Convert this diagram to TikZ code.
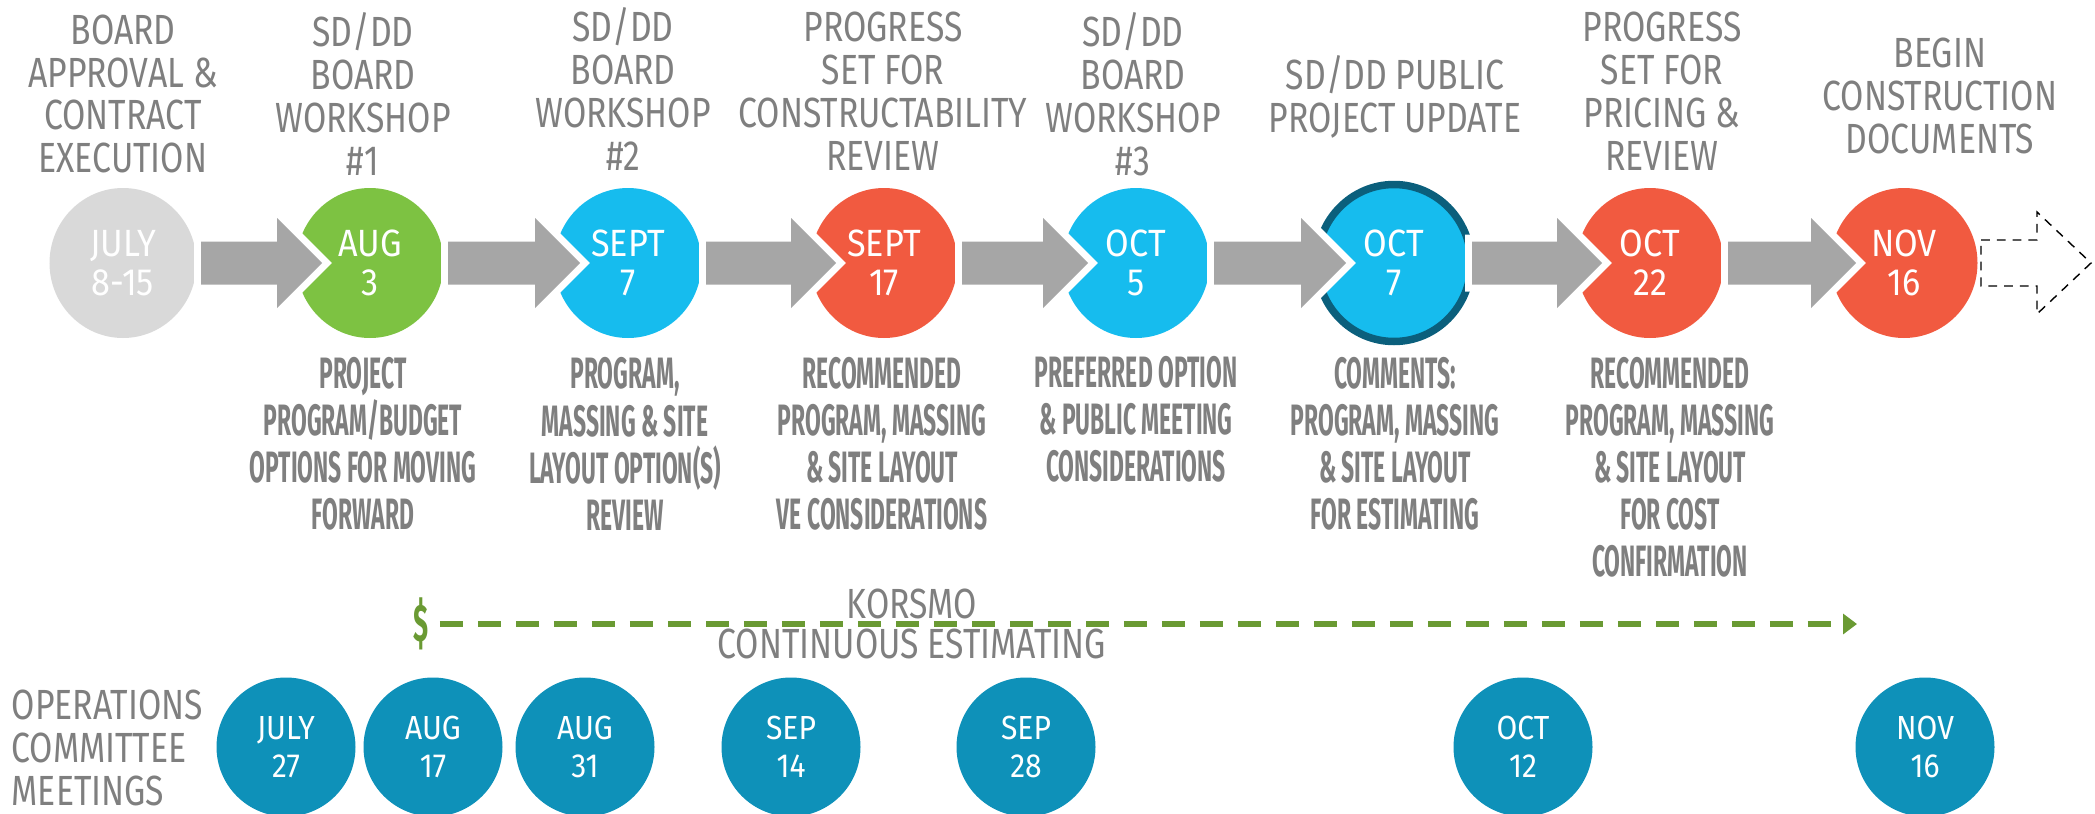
\documentclass[tikz,border=0pt]{standalone}
\usepackage{fontspec}
\setmainfont{Fira Sans}
\newfontfamily\lightfont{Fira Sans}[FakeStretch=0.8]
\newfontfamily\datefont{Fira Sans}[FakeStretch=0.9]
\newfontfamily\notefont{Fira Sans}[FakeStretch=0.52]
\usetikzlibrary{positioning,calc,shapes.geometric,arrows.meta}

\definecolor{textgray}{HTML}{7F7F7F}
\definecolor{arrowgray}{HTML}{A6A6A6}
\definecolor{pastgray}{HTML}{D9D9D9}
\definecolor{wsgreen}{HTML}{7DC242}
\definecolor{wsblue}{HTML}{16BCEE}
\definecolor{setred}{HTML}{F15A40}
\definecolor{ringblue}{HTML}{0B5F7C}
\definecolor{opsblue}{HTML}{0E91B9}
\definecolor{costgreen}{HTML}{6A9A33}

% grey block arrow from one milestone into the next
\newcommand{\flowarrow}[2]{%
  \path[flow] ($(#1.center)+(0.78,0.215)$) -- ($(#2.center)+(-0.93,0.215)$)
    -- ($(#2.center)+(-0.93,0.45)$) -- ($(#2.center)+(-0.48,0)$)
    -- ($(#2.center)+(-0.93,-0.45)$) -- ($(#2.center)+(-0.93,-0.215)$)
    -- ($(#1.center)+(0.78,-0.215)$) -- cycle;}

\begin{document}
\begin{tikzpicture}[
    milestone/.style={ellipse, minimum width=1.47cm, minimum height=1.5cm, inner sep=0pt,
      align=center, text=white, font=\datefont\fontsize{10.8}{11.1}\selectfont},
    meeting/.style={circle, fill=opsblue, minimum size=1.39cm, inner sep=0pt,
      align=center, text=white, font=\datefont\fontsize{9.5}{10.8}\selectfont},
    toplabel/.style={align=center, inner sep=0pt, text=textgray, font=\lightfont\fontsize{12}{12.2}\selectfont},
    note/.style={align=center, inner sep=0pt, text=textgray, font=\notefont\bfseries\fontsize{12.5}{13.4}\selectfont},
    flow/.style={fill=arrowgray, preaction={draw=white, line width=0.14cm}},
    costline/.style={draw=costgreen, line width=0.065cm, dash pattern=on 0.23cm off 0.15cm, -{Triangle[length=0.14cm, width=0.2cm]}},
  ]
  \useasboundingbox (0,0) rectangle (20.95,-8.14);

  % milestones
  \node[milestone, fill=pastgray] (jul8) at (1.23,-2.63) {JULY\\8-15};
  \node[milestone, fill=wsgreen] (aug3) at (3.70,-2.63) {AUG\\3};
  \node[milestone, fill=wsblue] (sep7) at (6.28,-2.63) {SEPT\\7};
  \node[milestone, fill=setred] (sep17) at (8.84,-2.63) {SEPT\\17};
  \node[milestone, fill=wsblue] (oct5) at (11.36,-2.63) {OCT\\5};
  \node[milestone, fill=wsblue, draw=ringblue, line width=0.075cm, minimum width=1.54cm, minimum height=1.57cm] (oct7) at (13.94,-2.63) {OCT\\7};
  \node[milestone, fill=setred] (oct22) at (16.50,-2.63) {OCT\\22};
  \node[milestone, fill=setred] (nov16) at (19.04,-2.63) {NOV\\16};

  \flowarrow{jul8}{aug3}
  \flowarrow{aug3}{sep7}
  \flowarrow{sep7}{sep17}
  \flowarrow{sep17}{oct5}
  \flowarrow{oct5}{oct7}
  \flowarrow{oct7}{oct22}
  \flowarrow{oct22}{nov16}

  % open arrow after the last milestone
  \draw[black, line width=0.4pt, dash pattern=on 2.5pt off 2pt]
    ($(nov16.center)+(0.77,0.23)$) -- ($(nov16.center)+(1.33,0.23)$) -- ($(nov16.center)+(1.33,0.51)$)
    -- ($(nov16.center)+(1.87,0)$) -- ($(nov16.center)+(1.33,-0.51)$) -- ($(nov16.center)+(1.33,-0.23)$)
    -- ($(nov16.center)+(0.77,-0.23)$) -- cycle;

  % what happens at each milestone
  \node[toplabel] (approval) at (1.23,-0.94) {BOARD\\APPROVAL \&\\CONTRACT\\EXECUTION};
  \node[toplabel] (workshopA) at (3.63,-0.94) {SD/DD\\BOARD\\WORKSHOP\\\#1};
  \node[toplabel] (workshopB) at (6.23,-0.89) {SD/DD\\BOARD\\WORKSHOP\\\#2};
  \node[toplabel] (constr) at (8.83,-0.915) {PROGRESS\\SET FOR\\CONSTRUCTABILITY\\REVIEW};
  \node[toplabel] (workshopC) at (11.33,-0.94) {SD/DD\\BOARD\\WORKSHOP\\\#3};
  \node[toplabel] (publicupd) at (13.95,-0.97) {SD/DD PUBLIC\\PROJECT UPDATE};
  \node[toplabel] (pricing) at (16.62,-0.91) {PROGRESS\\SET FOR\\PRICING \&\\REVIEW};
  \node[toplabel] (begincd) at (19.40,-0.96) {BEGIN\\CONSTRUCTION\\DOCUMENTS};

  % deliverables
  \node[note] (noteA) at (3.63,-4.44) {PROJECT\\PROGRAM/BUDGET\\OPTIONS FOR MOVING\\FORWARD};
  \node[note] (noteB) at (6.25,-4.44) {PROGRAM,\\MASSING \& SITE\\LAYOUT OPTION(S)\\REVIEW};
  \node[note] (noteC) at (8.82,-4.44) {RECOMMENDED\\PROGRAM, MASSING\\\& SITE LAYOUT\\VE CONSIDERATIONS};
  \node[note] (noteD) at (11.36,-4.19) {PREFERRED OPTION\\\& PUBLIC MEETING\\CONSIDERATIONS};
  \node[note] (noteE) at (13.95,-4.44) {COMMENTS:\\PROGRAM, MASSING\\\& SITE LAYOUT\\FOR ESTIMATING};
  \node[note] (noteF) at (16.70,-4.67) {RECOMMENDED\\PROGRAM, MASSING\\\& SITE LAYOUT\\FOR COST\\CONFIRMATION};

  % estimating line
  \node[text=costgreen, font=\notefont\bfseries\fontsize{15}{15}\selectfont, inner sep=3pt] (dollar) at (4.21,-6.24) {\$};
  \coordinate (estEnd) at (18.57,-6.24);
  \draw[costline] (dollar) -- (estEnd);
  \node[toplabel, font=\lightfont\fontsize{12}{12}\selectfont] (korsmo) at (9.12,-6.04) {KORSMO};
  \node[toplabel, font=\lightfont\fontsize{12}{12}\selectfont] (estimating) at (9.12,-6.44) {CONTINUOUS ESTIMATING};

  % committee meetings
  \node[toplabel, align=left, anchor=west, font=\lightfont\fontsize{12}{12.3}\selectfont] (opscomm) at (0.11,-7.48) {OPERATIONS\\COMMITTEE\\MEETINGS};
  \node[meeting] (jul27) at (2.86,-7.47) {JULY\\27};
  \node[meeting] (aug17) at (4.33,-7.47) {AUG\\17};
  \node[meeting] (aug31) at (5.85,-7.47) {AUG\\31};
  \node[meeting] (sep14) at (7.91,-7.47) {SEP\\14};
  \node[meeting] (sep28) at (10.26,-7.47) {SEP\\28};
  \node[meeting] (oct12) at (15.23,-7.47) {OCT\\12};
  \node[meeting] (nov16m) at (19.25,-7.47) {NOV\\16};
\end{tikzpicture}
\end{document}
